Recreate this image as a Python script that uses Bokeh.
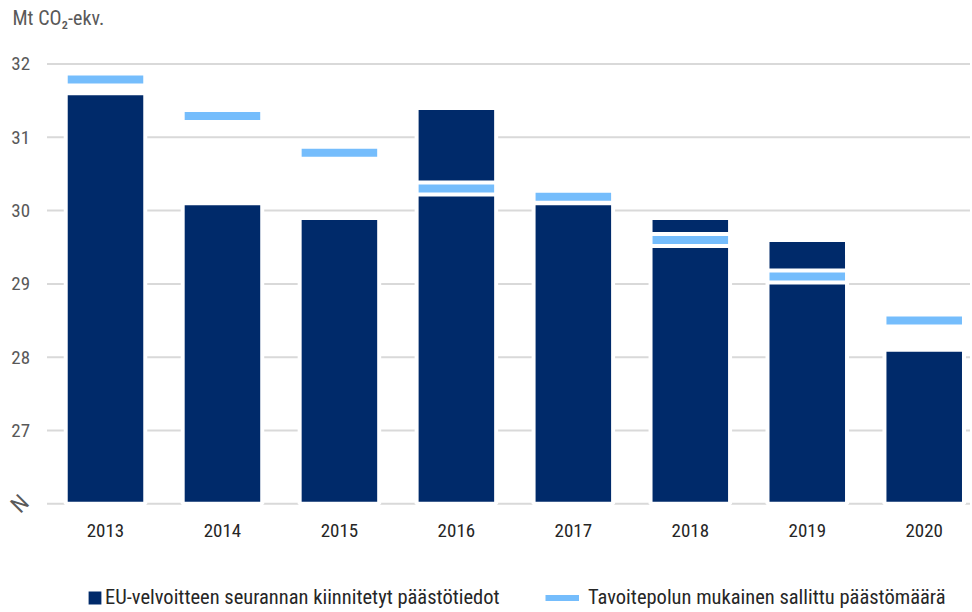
import math
from bokeh.plotting import figure
from bokeh.models import ColumnDataSource, Label, Legend, LegendItem, Range1d
from bokeh.core.properties import value
from bokeh.embed import file_html
from bokeh.resources import INLINE

years = ["2013", "2014", "2015", "2016", "2017", "2018", "2019", "2020"]
emissions = [31.60, 30.10, 29.90, 31.40, 30.10, 29.90, 29.60, 28.10]
targets = [31.79, 31.29, 30.79, 30.30, 30.19, 29.60, 29.10, 28.50]
y_ticks = [26, 27, 28, 29, 30, 31, 32]
y_base = 26

FONT = "Roboto Condensed, Liberation Sans Narrow, DejaVu Sans Condensed, sans-serif"
NAVY = "#002a6a"
LIGHT = "#75bdfc"

# data window: the whole canvas is the plotting frame
X0, X1 = -0.8977, 7.3957
Y0, Y1 = 24.5716, 32.8663
AXIS_X = -0.5            # left edge of the chart area (where gridlines start)

xs = list(range(len(years)))
src = ColumnDataSource(dict(x=xs, year=years, emis=emissions, target=targets))

p = figure(width=970, height=608, output_backend="svg", toolbar_location=None,
           x_range=Range1d(X0, X1), y_range=Range1d(Y0, Y1),
           x_axis_location=None, y_axis_location=None,
           min_border_left=0, min_border_right=0, min_border_top=0, min_border_bottom=0)
p.outline_line_color = None
p.background_fill_color = "white"
p.border_fill_color = "white"
p.xgrid.visible = False
p.ygrid.visible = False

# horizontal gridlines at the y ticks
p.segment(x0=[AXIS_X] * len(y_ticks), x1=[X1] * len(y_ticks), y0=y_ticks, y1=y_ticks,
          line_color="#d9d9d9", line_width=2)

bars = p.vbar(x="x", top="emis", bottom=y_base, width=0.68, source=src,
              fill_color=NAVY, line_color="white", line_width=4)
p.rect(x="x", y="target", width=0.68, height=12, height_units="screen", source=src,
       fill_color=LIGHT, line_color="white", line_width=4)
# line style used only as the legend key for the target path
target_key = p.line(x="x", y="target", source=src, line_color=LIGHT, line_width=6, visible=False)

# y tick labels
p.text(x=[AXIS_X] * (len(y_ticks) - 1), y=y_ticks[1:], text=[str(t) for t in y_ticks[1:]],
       x_offset=-17, text_align="right", text_baseline="middle",
       text_font=value(FONT), text_font_size="19px", text_color="#595959")
# axis-break mark at the floor of the value axis
p.text(x=[AXIS_X], y=[y_ticks[0]], text=["N"], angle=math.pi / 4,
       x_offset=-27, y_offset=0, text_align="center", text_baseline="middle",
       text_font=value(FONT), text_font_size="23px", text_color="#595959")
# year labels
p.text(x="x", y=y_base, text="year", source=src, y_offset=27,
       text_align="center", text_baseline="middle",
       text_font=value(FONT), text_font_size="19px", text_color="#262626")

# unit label
p.add_layout(Label(x=-0.795, y=32.63, text="Mt CO₂-ekv.",
                   text_align="left", text_baseline="middle",
                   text_font=FONT, text_font_size="20px", text_color="#595959"))

def add_legend(label, rend, vx, gw, gh, standoff):
    lg = Legend(items=[LegendItem(label=label, renderers=[rend])],
                location=(vx, -1), orientation="horizontal", padding=0, margin=0,
                border_line_color=None, background_fill_alpha=0,
                inactive_fill_alpha=0,
                glyph_width=gw, glyph_height=gh, label_height=21, label_standoff=standoff,
                label_text_font=FONT, label_text_font_size="20.5px", label_text_color="#262626")
    p.add_layout(lg, "center")

add_legend("EU-velvoitteen seurannan kiinnitetyt päästötiedot", bars, 84, 21, 21, 0)
add_legend("Tavoitepolun mukainen sallittu päästömäärä", target_key, 545, 34, 21, 9)

open("out.html", "w").write(file_html(p, INLINE))
